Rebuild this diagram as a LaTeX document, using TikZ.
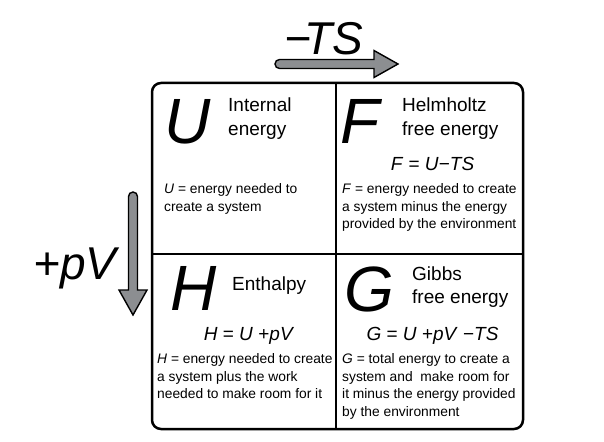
\documentclass[tikz,border=0pt]{standalone}
\usepackage{fontspec}
\setmainfont{Liberation Sans}
\definecolor{arrowgray}{HTML}{8C8E91}
\newcommand{\mns}{\char"2212\relax}
\begin{document}
\begin{tikzpicture}[x=1pt,y=-1pt,
  big/.style={font=\fontsize{64}{64}\selectfont\itshape, inner sep=0pt, anchor=base west},
  ttl/.style={font=\fontsize{19}{23.5}\selectfont, inner sep=0pt, anchor=base west},
  eqn/.style={font=\fontsize{19}{23}\selectfont, inner sep=0pt, anchor=base},
  desc/.style={font=\fontsize{13.8}{17.7}\selectfont, inner sep=0pt, anchor=base west},
  side/.style={font=\fontsize{46}{46}\selectfont\itshape, inner sep=0pt, anchor=base west},
  fatarrow/.style={fill=arrowgray, draw=black, line width=1.4pt, line join=miter}]
\useasboundingbox (0,0) rectangle (604,441);

% frame
\draw[line width=2.5pt, rounded corners=9pt] (152,83) rectangle (523,429);
\draw[line width=2.2pt] (336,83) -- (336,429);
\draw[line width=2.2pt] (152,254) -- (523,254);

% arrows
\draw[fatarrow] (374,59.5) -- (279.5,59.5) arc(270:90:4.5) -- (374,68.5) -- (374,77.5) -- (398,64) -- (374,50.5) -- cycle;
\draw[fatarrow] (137.5,290) -- (137.5,196.5) arc(0:-180:4.5) -- (128.5,290) -- (119,290) -- (133,315) -- (147,290) -- cycle;

\node[side] (ts) at (284,55) {\mns\kern-0.14em TS};
\node[side] (pv) at (33,279) {+pV};

% U cell
\node[big] (Ub) at (164,143) {U};
\node[ttl] (Ut) at (228,111.7) {\vtop{\hbox{Internal}\hbox{energy}}};
\node[desc] (Ud) at (164,193.3) {\vtop{\hbox{\textit{U} = energy needed to}\hbox{create a system}}};

% F cell
\node[big] (Fb) at (340,143) {F};
\node[ttl] (Ft) at (402,111.7) {\vtop{\hbox{Helmholtz}\hbox{free energy}}};
\node[eqn] (Fe) at (432.5,170) {\textit{F} = \textit{U}\mns\textit{TS}};
\node[desc] (Fd) at (342,193.3) {\vtop{\hbox{\textit{F} = energy needed to create}\hbox{a system minus the energy}\hbox{provided by the environment}}};

% H cell
\node[big] (Hb) at (170,310) {H};
\node[ttl] (Ht) at (232,290) {Enthalpy};
\node[eqn] (He) at (249,340) {\textit{H} = \textit{U} +\textit{pV}};
\node[desc] (Hd) at (157,363.3) {\vtop{\hbox{\textit{H} = energy needed to create}\hbox{a system plus the work}\hbox{needed to make room for it}}};

% G cell
\node[big] (Gb) at (344,311.7) {G};
\node[ttl] (Gt) at (412,280) {\vtop{\hbox{Gibbs}\hbox{free energy}}};
\node[eqn] (Ge) at (432.5,340) {\textit{G} = \textit{U} +\textit{pV} \mns\textit{TS}};
\node[desc] (Gd) at (342,363.3) {\vtop{\hbox{\textit{G} = total energy to create a}\hbox{system and\ \ make room for}\hbox{it minus the energy provided}\hbox{by the environment}}};
\end{tikzpicture}
\end{document}
